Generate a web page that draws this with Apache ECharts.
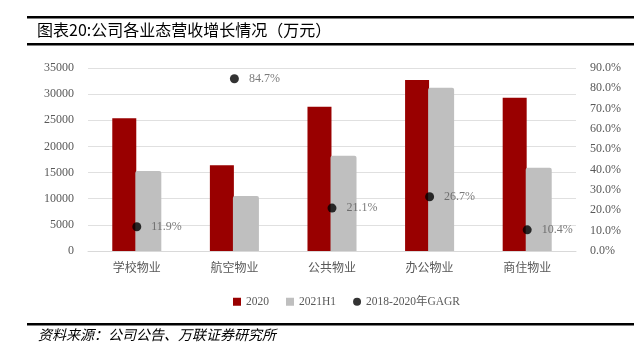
<!DOCTYPE html>
<html>
<head>
<meta charset="utf-8">
<script src="https://cdn.jsdelivr.net/npm/echarts@6/dist/echarts.min.js"></script>
<style>html,body{margin:0;padding:0;background:#fff}#c{width:641px;height:362px}</style>
</head>
<body>
<div id="c"></div>
<script>
const categories = ['学校物业', '航空物业', '公共物业', '办公物业', '商住物业'];
const values2020 = [25400, 16400, 27600, 32700, 29300];
const values2021H1 = [15300, 10500, 18200, 31200, 15900];
const cagr = [11.9, 84.7, 21.1, 26.7, 10.4];
const leftTicks = [0, 35000, 5000];
const rightTicks = [0, 90, 10];

const chart = echarts.init(document.getElementById('c'), null, {renderer: 'canvas'});
const serif = "'Liberation Serif', 'Noto Sans CJK SC', serif";
const labelColor = '#595959';
chart.setOption({
  animation: false,
  textStyle: {fontFamily: serif},
  grid: {left: 88, right: 65, top: 68, bottom: 111, containLabel: false},
  legend: {
    top: 291, left: 228,
    itemWidth: 8, itemHeight: 8, itemGap: 17,
    textStyle: {fontFamily: serif, fontSize: 11.5, color: labelColor},
    data: [
      {name: '2020', icon: 'rect'},
      {name: '2021H1', icon: 'rect'},
      {name: '2018-2020年GAGR', icon: 'circle'}
    ]
  },
  xAxis: {
    type: 'category', data: categories,
    axisLine: {show: true, lineStyle: {color: '#d9d9d9'}},
    axisTick: {show: false},
    axisLabel: {color: labelColor, fontSize: 12, margin: 10, fontFamily: "'Noto Sans CJK SC', sans-serif"}
  },
  yAxis: [
    {
      type: 'value', min: leftTicks[0], max: leftTicks[1], interval: leftTicks[2],
      axisLine: {show: false}, axisTick: {show: false},
      axisLabel: {color: labelColor, fontSize: 12, margin: 14, formatter: v => String(v)},
      splitLine: {lineStyle: {color: '#e0e0e0', width: 1}}
    },
    {
      type: 'value', min: rightTicks[0], max: rightTicks[1], interval: rightTicks[2],
      axisLine: {show: false}, axisTick: {show: false},
      axisLabel: {color: labelColor, fontSize: 12, margin: 14, formatter: v => v.toFixed(1) + '%'},
      splitLine: {show: false}
    }
  ],
  series: [
    {
      name: '2020', type: 'bar', data: values2020, barWidth: 24, barGap: '-4%',
      itemStyle: {color: '#990000'}
    },
    {
      name: '2021H1', type: 'bar', data: values2021H1, barWidth: 26,
      itemStyle: {color: '#bfbfbf', borderRadius: [2, 2, 0, 0]}
    },
    {
      name: '2018-2020年GAGR', type: 'scatter', yAxisIndex: 1, data: cagr,
      symbol: 'circle', symbolSize: 9, itemStyle: {color: '#000000'},
      label: {show: true, position: 'right', distance: 10, color: labelColor, fontSize: 12,
        formatter: p => p.value.toFixed(1) + '%'}
    }
  ],
  graphic: [
    {type: 'rect', shape: {x: 27, y: 16, width: 607, height: 2.5}, style: {fill: '#000'}},
    {type: 'rect', shape: {x: 27, y: 43, width: 607, height: 2.5}, style: {fill: '#000'}},
    {type: 'rect', shape: {x: 27, y: 323, width: 607, height: 2.5}, style: {fill: '#000'}},
    {type: 'text', left: 37, top: 22, style: {text: '图表20:公司各业态营收增长情况（万元）', font: "16px 'Noto Sans CJK SC'", fill: '#000'}},
    {type: 'text', left: 38, top: 328, style: {text: '资料来源：公司公告、万联证券研究所', font: "italic 14px 'Noto Sans CJK SC'", fill: '#000'}}
  ]
});
</script>
</body>
</html>
